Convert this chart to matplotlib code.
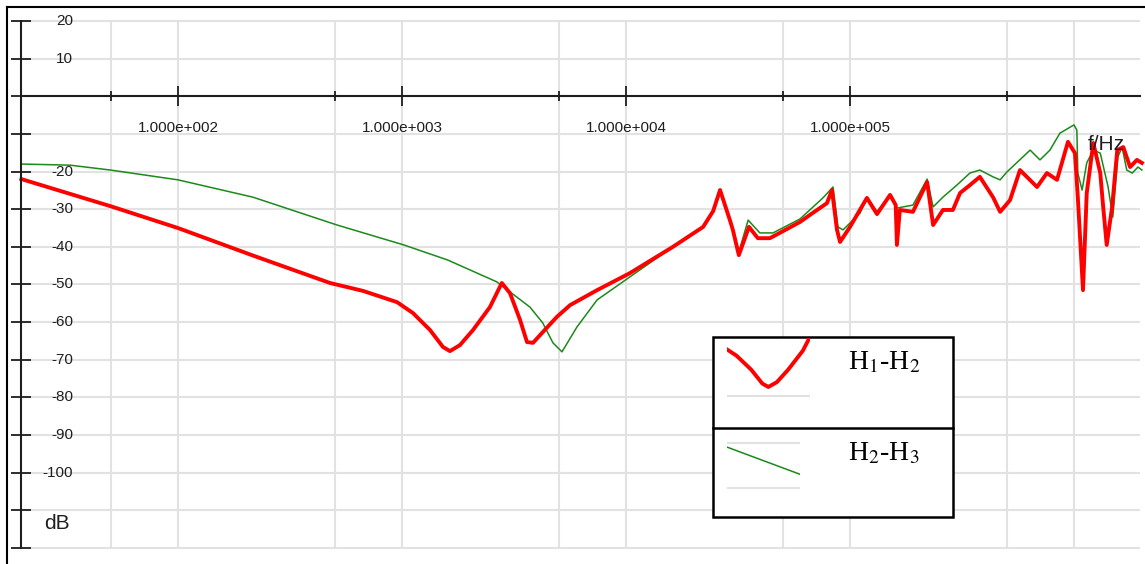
import matplotlib
matplotlib.use("Agg")
import matplotlib.pyplot as plt
from matplotlib.lines import Line2D
from matplotlib.patches import Rectangle
from matplotlib.ticker import FixedLocator, NullFormatter

plt.rcParams['font.family'] = ['Liberation Sans', 'DejaVu Sans']
plt.rcParams['mathtext.fontset'] = 'stix'

# --- data (Hz, dB) ---
f_h12 = [20, 50, 100, 216, 477, 670, 951, 1120, 1334, 1524, 1637, 1815, 2075, 2470,
         2790, 3035, 3365, 3615, 3845, 4260, 4915, 5625, 7430, 10400, 16200, 22100,
         24500, 26300, 29100, 30000, 31900, 35400, 38800, 43900, 59800, 66300, 78900,
         83100, 87500, 90300, 100000, 119000, 132000, 151000, 160000, 162000, 167000,
         191000, 221000, 235000, 260000, 288000, 310000, 343000, 380000, 435000,
         468000, 518000, 574000, 684000, 757000, 840000, 940000, 1.01e6, 1.04e6,
         1.097e6, 1.14e6, 1.22e6, 1.31e6, 1.35e6, 1.40e6, 1.48e6, 1.56e6, 1.66e6,
         1.78e6, 1.91e6, 2.01e6]
db_h12 = [-22.0, -29.2, -35.0, -42.3, -49.6, -51.7, -54.7, -57.6, -62.1, -66.6, -67.7,
          -66.1, -62.1, -56.0, -49.6, -52.3, -59.4, -65.3, -65.5, -62.6, -58.6, -55.5,
          -51.5, -47.0, -40.0, -34.7, -30.5, -24.9, -32.9, -35.5, -42.2, -34.7, -37.7,
          -37.7, -33.4, -31.5, -28.4, -24.9, -35.5, -38.7, -34.7, -27.0, -31.3, -26.2,
          -28.9, -39.5, -30.2, -30.7, -22.8, -34.2, -30.2, -30.2, -25.7, -23.6, -21.4,
          -26.8, -30.7, -27.6, -19.6, -24.1, -20.4, -22.2, -12.1, -15.1, -26.8, -51.5,
          -25.7, -12.4, -20.4, -29.4, -39.5, -29.4, -14.3, -13.5, -18.8, -16.9, -17.7]

f_h23 = [20, 33, 50, 100, 216, 513, 1020, 1600, 2650, 3725, 4250, 4720, 5180, 6040,
         7430, 10400, 16200, 22100, 24500, 26300, 29100, 30000, 31900, 35100, 39600,
         45300, 59800, 75700, 84000, 88300, 93100, 111000, 119000, 132000, 151000,
         162000, 191000, 221000, 235000, 260000, 300000, 343000, 380000, 435000,
         468000, 502000, 637000, 705000, 781000, 865000, 1.0e6, 1.03e6, 1.04e6,
         1.087e6, 1.14e6, 1.22e6, 1.31e6, 1.42e6, 1.49e6, 1.57e6, 1.64e6, 1.72e6,
         1.82e6, 1.93e6, 2.01e6]
db_h23 = [-18.0, -18.3, -19.6, -22.2, -26.8, -34.2, -39.5, -43.5, -49.3, -56.0, -60.2,
          -65.5, -67.9, -61.3, -54.1, -48.0, -40.0, -34.7, -30.5, -24.9, -32.9, -35.5,
          -41.4, -32.9, -36.3, -36.3, -32.6, -27.0, -24.1, -34.7, -35.5, -31.0, -26.8,
          -30.7, -26.2, -29.7, -28.9, -22.0, -29.4, -26.8, -23.6, -20.4, -19.6, -21.4,
          -22.2, -20.1, -14.3, -16.9, -14.3, -9.8, -7.6, -9.0, -20.4, -24.9, -17.7,
          -14.3, -15.1, -24.1, -32.1, -16.1, -13.5, -19.6, -20.4, -18.8, -19.6]

y_ticks = list(range(-120, 21, 10))
y_labels = ['20', '10', '-20', '-30', '-40', '-50', '-60', '-70', '-80', '-90', '-100']
y_label_vals = [20, 10, -20, -30, -40, -50, -60, -70, -80, -90, -100]
x_major = [1e2, 1e3, 1e4, 1e5, 1e6]
x_minor = [50, 500, 5e3, 5e4, 5e5]
x_labels = ['1.000e+002', '1.000e+003', '1.000e+004', '1.000e+005']
series_names = [r'H$_1$-H$_2$', r'H$_2$-H$_3$']

RED = '#ff0000'
GREEN = '#1a8a1a'
GRID = '#e2e2e2'
INK = '#1e1e1e'

W, H = 1145, 564
fig = plt.figure(figsize=(W / 100, H / 100), dpi=100)
ax = fig.add_axes([0, 0, 1, 1])
ax.set_xscale('log')
ax.set_xlim(16.05, 2.075e6)
ax.set_ylim(-124.26, 25.58)

# grid (limited extent like the original)
ax.hlines(y_ticks, 20, 1.97e6, color=GRID, lw=1.5, zorder=0)
ax.vlines(x_major + x_minor, -120, 20, color=GRID, lw=1.5, zorder=0)

# axes through the origin
for s in ['top', 'right']:
    ax.spines[s].set_visible(False)
ax.spines['left'].set_position(('data', 20))
ax.spines['left'].set_bounds(-120, 20)
ax.spines['bottom'].set_position(('data', 0))
ax.spines['bottom'].set_bounds(20, 1.97e6)
for s in ['left', 'bottom']:
    ax.spines[s].set_linewidth(1.5)
    ax.spines[s].set_color(INK)
    ax.spines[s].set_zorder(3)

ax.yaxis.set_major_locator(FixedLocator(y_ticks))
ax.xaxis.set_major_locator(FixedLocator(x_major))
ax.xaxis.set_minor_locator(FixedLocator(x_minor))
ax.xaxis.set_minor_formatter(NullFormatter())
ax.tick_params(axis='both', which='major', direction='inout', length=14.5, width=1.3,
               color=INK, labelleft=False, labelbottom=False)
ax.tick_params(axis='x', which='minor', direction='inout', length=7.5, width=1.3, color=INK)
ax.tick_params(axis='y', which='minor', left=False)

# tick labels
for v, t in zip(y_label_vals, y_labels):
    ax.text(73 / W, v, t, transform=ax.get_yaxis_transform(), ha='right', va='center',
            fontsize=11, color=INK)
for v, t in zip(x_major, x_labels):
    ax.text(v, -8.4, t, ha='center', va='center', fontsize=11, color=INK)
ax.text(57 / W, -113.4, 'dB', transform=ax.get_yaxis_transform(), ha='center',
        va='center', fontsize=15, color=INK)
ax.text(1.4e6, -12.9, 'f/Hz', ha='center', va='center', fontsize=15, color=INK, zorder=5)

# curves
ax.plot(f_h23, db_h23, color=GREEN, lw=1.1, zorder=2)
ax.plot(f_h12, db_h12, color=RED, lw=2.8, zorder=2)

# outer frame (top and left only)
fig.add_artist(Line2D([7 / W, 1], [1 - 7 / H, 1 - 7 / H], color='black', lw=1.5,
                      transform=fig.transFigure))
fig.add_artist(Line2D([7 / W, 7 / W], [1 - 7 / H, 0], color='black', lw=1.5,
                      transform=fig.transFigure))

# custom legend box
def fbox(x0, y0, x1, y1):
    return [x0 / W, 1 - y1 / H, (x1 - x0) / W, (y1 - y0) / H]

lx0, ly0, lx1, ly1, ldiv = 713, 337, 953, 517, 428
fig.add_artist(Rectangle((lx0 / W, 1 - ly1 / H), (lx1 - lx0) / W, (ly1 - ly0) / H,
                         transform=fig.transFigure, facecolor='white', edgecolor='black',
                         lw=1.8, zorder=10))
fig.add_artist(Line2D([lx0 / W, lx1 / W], [1 - ldiv / H, 1 - ldiv / H], color='black',
                      lw=1.8, transform=fig.transFigure, zorder=11))

# thumbnails cropped from the curves themselves
t1 = fig.add_axes(fbox(727, 338, 810, 400), zorder=12)
t1.set_xscale('log')
t1.plot(f_h12, db_h12, color=RED, lw=2.8)
t1.axhline(-70.6, color=GRID, lw=1.5, zorder=0)
t1.set_xlim(1000, 2690)
t1.set_ylim(-71.9, -51.9)
t1.axis('off')

t2 = fig.add_axes(fbox(727, 440, 800, 492), zorder=12)
t2.set_xscale('log')
t2.plot(f_h23, db_h23, color=GREEN, lw=1.1)
t2.axhline(-21.5, color=GRID, lw=1.5, zorder=0)
t2.axhline(-29.1, color=GRID, lw=1.5, zorder=0)
t2.set_xlim(100, 216)
t2.set_ylim(-29.8, -21.0)
t2.axis('off')

fig.text(848 / W, 1 - 369 / H, series_names[0], family=['Liberation Serif', 'DejaVu Serif'],
         fontsize=20, va='baseline', ha='left', zorder=13)
fig.text(848 / W, 1 - 460 / H, series_names[1], family=['Liberation Serif', 'DejaVu Serif'],
         fontsize=20, va='baseline', ha='left', zorder=13)

fig.savefig('out.png', dpi=100)
